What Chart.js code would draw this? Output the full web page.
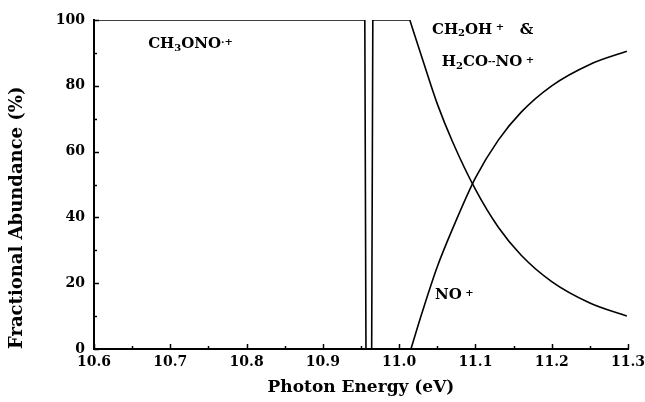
<!DOCTYPE html>
<html><head><meta charset="utf-8">
<script src="https://cdn.jsdelivr.net/npm/chart.js@4"></script>
<style>html,body{margin:0;padding:0;background:#fff}#wrap{width:645px;height:402px}</style>
</head><body><div id="wrap"><canvas id="c" width="645" height="402"></canvas></div>
<script>
// ---- data ----
const ch3onoEnergy = [10.6, 10.955, 10.9565, 11.3];
const ch3onoValue  = [100, 100, 0, 0];

const ch2ohStepEnergy = [10.6, 10.964, 10.9655, 11.014];
const ch2ohStepValue  = [0, 0, 100, 100];
const ch2ohDecayEnergy = [11.014, 11.03, 11.05, 11.07, 11.10, 11.13, 11.16, 11.20, 11.25, 11.2985];
const ch2ohDecayValue  = [100, 88.5, 74.5, 63, 48.5, 37, 28.5, 20.5, 14, 10];

const noEnergy = [11.0155, 11.03, 11.05, 11.07, 11.10, 11.13, 11.16, 11.20, 11.25, 11.2985];
const noValue  = [0, 11, 25, 36.5, 52, 63.5, 72, 80, 86.5, 90.5];

const xTickLabels = ['10.6','10.7','10.8','10.9','11.0','11.1','11.2','11.3'];
const yTickLabels = ['0','20','40','60','80','100'];

// annotation texts: segments [text, kind] kind 0 normal, -1 subscript, 1 superscript, 2 small dash
const annoCH3ONO = [['CH',0],['3',-1],['ONO',0],['·+',1]];
const annoCH2OH  = [['CH',0],['2',-1],['OH',0],[' +',1],['   &',0]];
const annoH2CONO = [['H',0],['2',-1],['CO',0],['--',2],['NO',0],[' +',1]];
const annoNO     = [['NO',0],[' +',1]];

const pts = (xs, ys) => xs.map((x, i) => ({x: x, y: ys[i]}));
const FONT = "'DejaVu Serif', 'Liberation Serif', serif";

const lineDs = (data, curved) => ({
  data: data, borderColor: '#000', borderWidth: 1.6, pointRadius: 0,
  fill: false, tension: curved ? 0.4 : 0, cubicInterpolationMode: curved ? 'monotone' : 'default'
});

const annotations = [
  {parts: annoCH3ONO, x: 10.671, y: 92.7},
  {parts: annoCH2OH,  x: 11.043, y: 97.0},
  {parts: annoH2CONO, x: 11.056, y: 87.2},
  {parts: annoNO,     x: 11.047, y: 16.4}
];

const annoPlugin = {
  id: 'anno',
  afterDatasetsDraw(chart) {
    const ctx = chart.ctx, xs = chart.scales.x, ys = chart.scales.y;
    ctx.save();
    ctx.fillStyle = '#000';
    ctx.textBaseline = 'middle';
    ctx.textAlign = 'left';
    annotations.forEach(a => {
      let px = xs.getPixelForValue(a.x);
      const py = ys.getPixelForValue(a.y);
      a.parts.forEach(([t, k]) => {
        ctx.font = (k === 0 ? 'bold 15px ' : (k === 2 ? 'bold 9px ' : 'bold 10px ')) + FONT;
        const dy = k === -1 ? 4 : (k === 1 ? -2 : 0);
        ctx.fillText(t, px, py + dy);
        px += ctx.measureText(t).width;
      });
    });
    ctx.restore();
  }
};

const isMajorX = v => Math.abs(Math.round(v * 10) - v * 10) < 1e-6;
const isMajorY = v => Math.round(v) % 20 === 0;

const tickPlugin = {
  id: 'innerTicks',
  afterDraw(chart) {
    const ctx = chart.ctx, xs = chart.scales.x, ys = chart.scales.y;
    ctx.save();
    ctx.strokeStyle = '#000';
    ctx.lineWidth = 1.5;
    xs.ticks.forEach(t => {
      const px = Math.round(xs.getPixelForValue(t.value)) + 0.5;
      ctx.beginPath();
      ctx.moveTo(px, ys.bottom);
      ctx.lineTo(px, ys.bottom - (isMajorX(t.value) ? 5 : 3));
      ctx.stroke();
    });
    ys.ticks.forEach(t => {
      const py = Math.round(ys.getPixelForValue(t.value)) + 0.5;
      ctx.beginPath();
      ctx.moveTo(xs.left, py);
      ctx.lineTo(xs.left + (isMajorY(t.value) ? 5 : 3), py);
      ctx.stroke();
    });
    ctx.restore();
  }
};

new Chart(document.getElementById('c'), {
  type: 'line',
  data: {
    datasets: [
      lineDs(pts(ch3onoEnergy, ch3onoValue), false),
      lineDs(pts(ch2ohStepEnergy, ch2ohStepValue), false),
      lineDs(pts(ch2ohDecayEnergy, ch2ohDecayValue), true),
      lineDs(pts(noEnergy, noValue), true)
    ]
  },
  options: {
    responsive: false,
    devicePixelRatio: 1,
    animation: false,
    layout: {padding: {left: 0, right: 17, top: 20, bottom: 0}},
    plugins: {legend: {display: false}, tooltip: {enabled: false}},
    scales: {
      x: {
        type: 'linear', min: 10.6, max: 11.3,
        afterFit: s => { s.height = 53; s.paddingRight = 0; s.paddingLeft = 0; },
        border: {display: true, color: '#000', width: 2},
        grid: {display: false, drawTicks: false},
        ticks: {
          stepSize: 0.05, autoSkip: false, maxRotation: 0, padding: 5, color: '#000',
          font: {family: FONT, size: 14, weight: 'bold'},
          callback: v => {
            if (!isMajorX(v)) return '';
            const i = Math.round((v - 10.6) * 10);
            return xTickLabels[i];
          }
        },
        title: {display: true, text: 'Photon Energy (eV)', color: '#000',
          font: {family: FONT, size: 17, weight: 'bold'}, padding: {top: 0, bottom: 4}}
      },
      y: {
        min: 0, max: 100,
        afterFit: s => { s.width = 94; s.paddingTop = 0; s.paddingBottom = 0; },
        border: {display: true, color: '#000', width: 2},
        grid: {display: false, drawTicks: false},
        ticks: {
          stepSize: 10, autoSkip: false, padding: 9, color: '#000',
          font: {family: FONT, size: 14, weight: 'bold'},
          callback: v => isMajorY(v) ? yTickLabels[Math.round(v / 20)] : ''
        },
        title: {display: true, text: 'Fractional Abundance (%)', color: '#000', align: 'start',
          font: {family: FONT, size: 18, weight: 'bold'}, padding: {top: 7, bottom: 0}}
      }
    }
  },
  plugins: [annoPlugin, tickPlugin]
});
</script>
</body></html>
